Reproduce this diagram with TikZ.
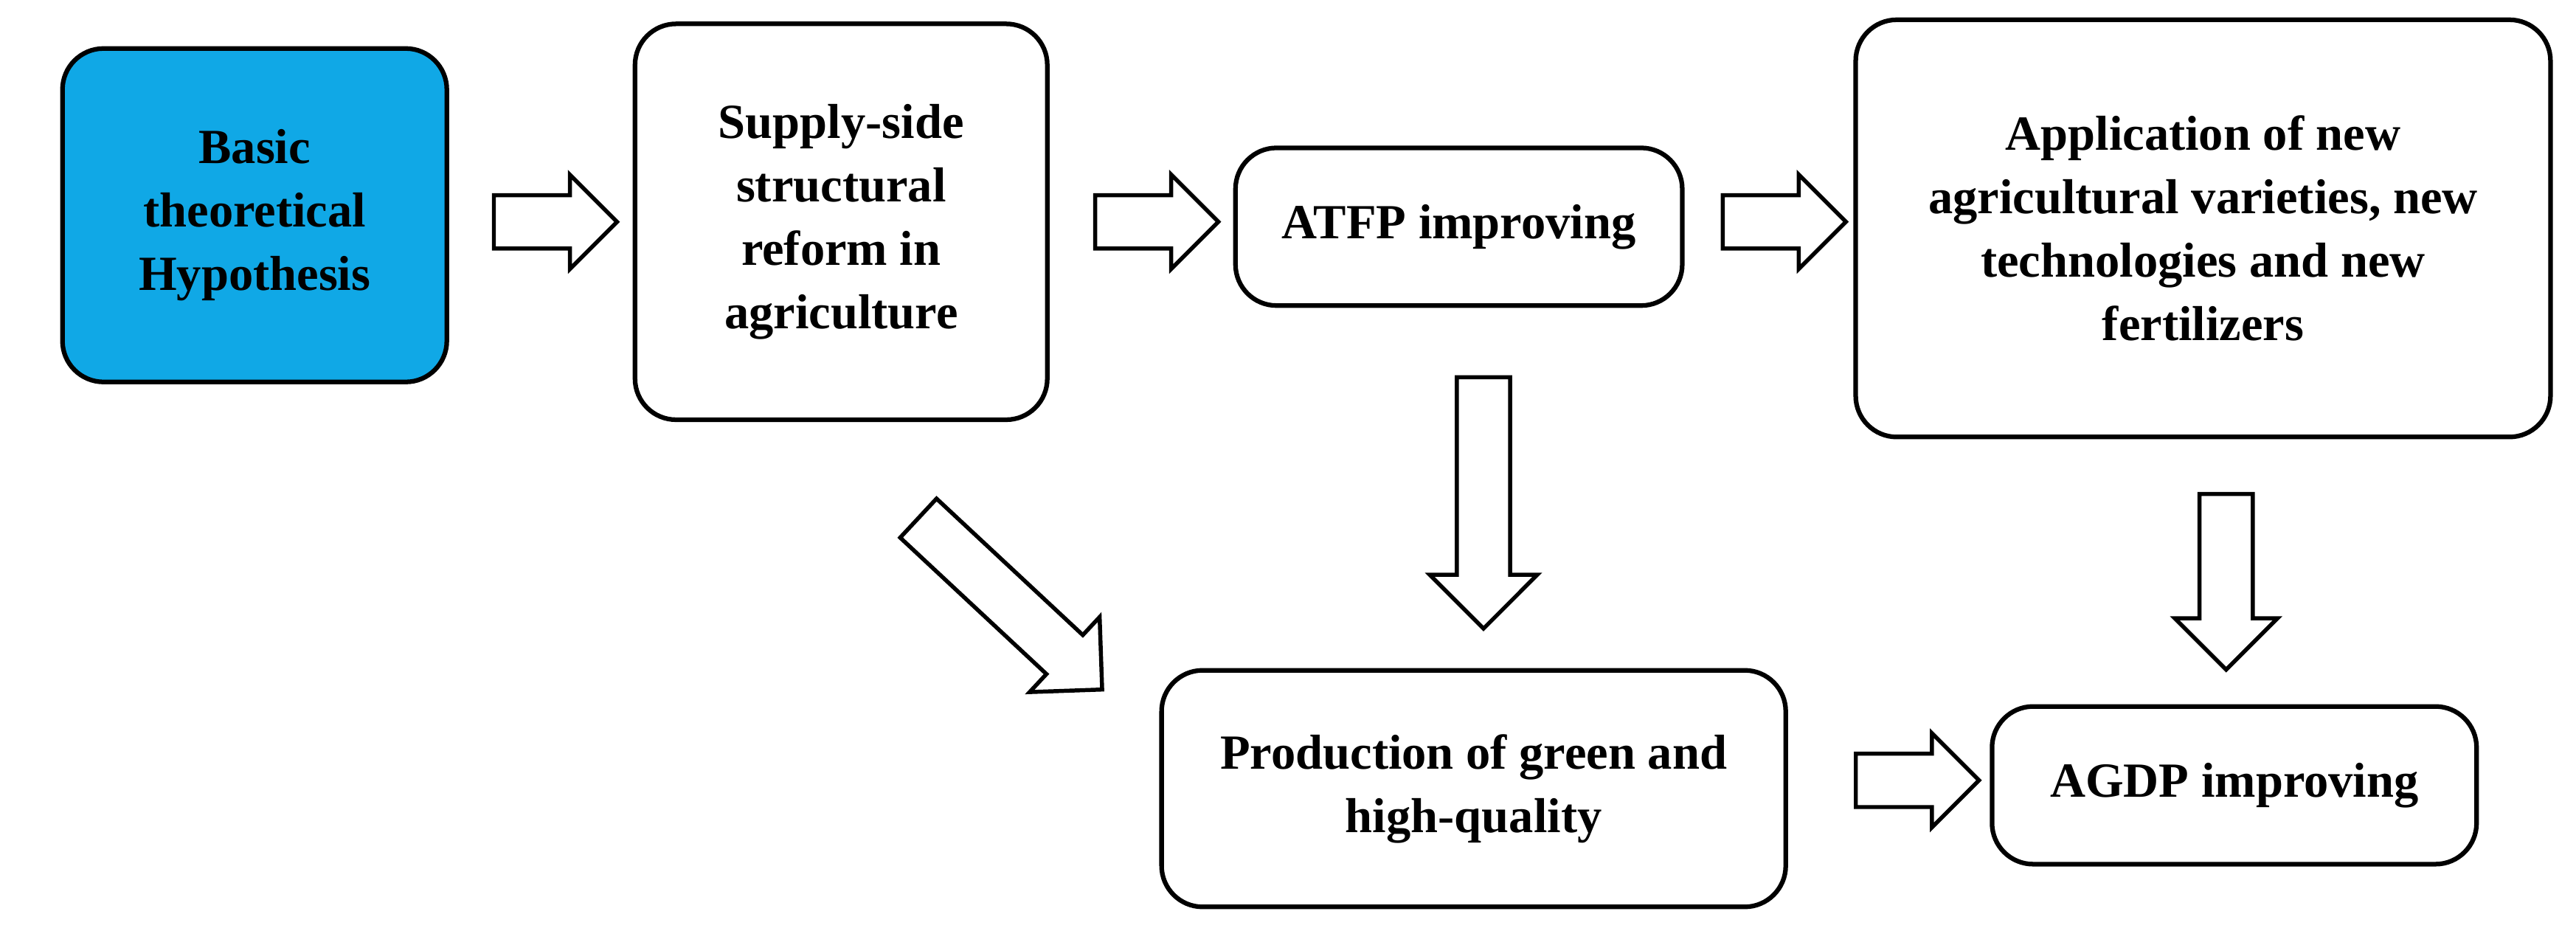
\documentclass[tikz,border=0pt]{standalone}
\usepackage{fontspec}
\setmainfont{Liberation Serif}
\usetikzlibrary{shapes.arrows}
\definecolor{bluefill}{HTML}{10A8E6}
\begin{document}
\begin{tikzpicture}[x=0.02cm,y=-0.02cm,
  box/.style={draw,line width=1.6pt,rounded corners=0.5cm,align=center,
    font=\bfseries\fontsize{17}{22}\selectfont,inner sep=0pt},
  barrow/.style={single arrow,draw,line width=1.4pt,fill=white,inner xsep=0pt,
    inner ysep=0.3cm,single arrow head indent=0pt}]
\useasboundingbox (0,0) rectangle (1568,575);
\node[box,fill=bluefill,minimum width=4.68cm,minimum height=4.06cm] (basic) at (155,131) {Basic\\theoretical\\Hypothesis};
\node[box,minimum width=5.02cm,minimum height=4.82cm] (supply) at (512,135) {Supply-side\\structural\\reform in\\agriculture};
\node[box,minimum width=5.44cm,minimum height=1.92cm] (atfp) at (888,138) {ATFP improving};
\node[box,minimum width=8.46cm,minimum height=5.08cm] (app) at (1341,139) {Application of new\\agricultural varieties, new\\technologies and new\\fertilizers};
\node[box,minimum width=7.6cm,minimum height=2.88cm] (prod) at (897,480) {Production of green and\\high-quality};
\node[box,minimum width=5.9cm,minimum height=1.92cm] (agdp) at (1360,478) {AGDP improving};
\node[barrow,minimum height=1.5cm,single arrow head extend=0.25cm] (a1) at (330,135) {};
\node[barrow,minimum height=1.5cm,single arrow head extend=0.25cm] (a2) at (696,135) {};
\node[barrow,minimum height=1.5cm,single arrow head extend=0.25cm] (a3) at (1078,135) {};
\node[barrow,minimum height=1.5cm,single arrow head extend=0.25cm] (a4) at (1159,475) {};
\node[barrow,minimum height=3.06cm,single arrow head extend=0.33cm,rotate=-90] (d1) at (903,298) {};
\node[barrow,minimum height=2.14cm,single arrow head extend=0.3cm,rotate=-90] (d2) at (1355,346) {};
\node[barrow,minimum height=3.06cm,single arrow head extend=0.3cm,rotate=-43] (dg) at (609,362) {};
\end{tikzpicture}
\end{document}
